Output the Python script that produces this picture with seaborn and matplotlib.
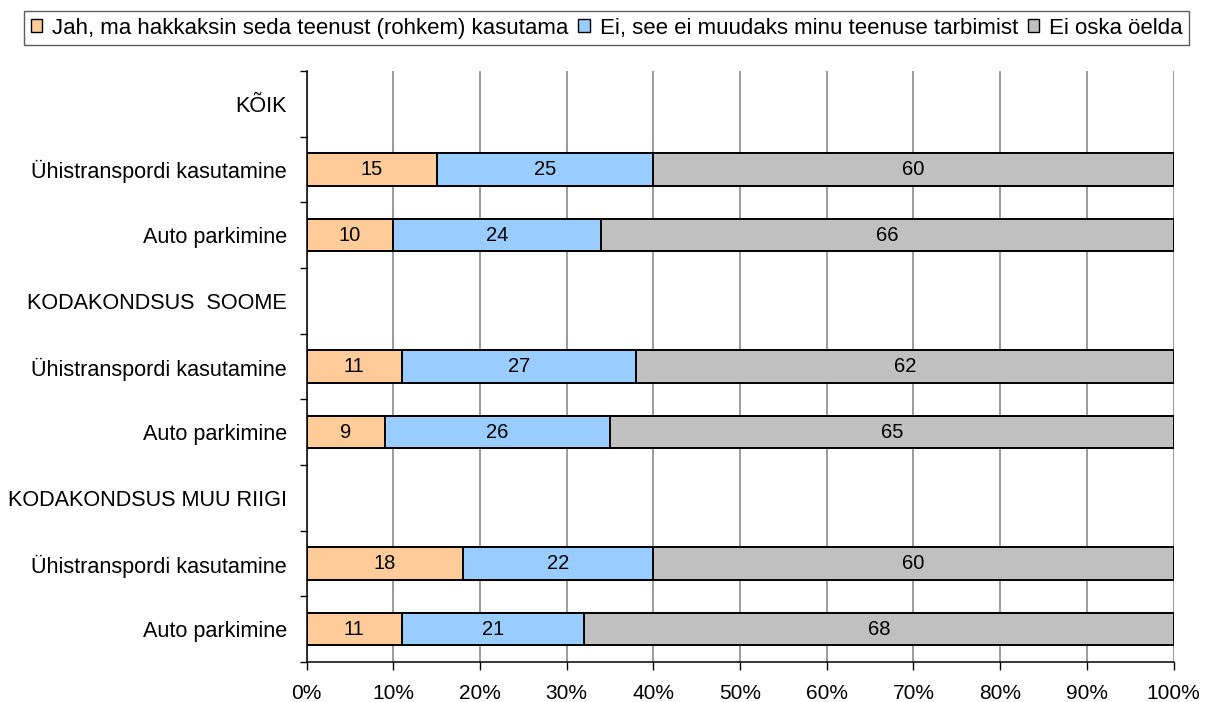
import matplotlib
matplotlib.use("Agg")
import matplotlib.pyplot as plt
import numpy as np
import pandas as pd
import seaborn as sns
from matplotlib.patches import Patch
from matplotlib.ticker import FixedLocator, PercentFormatter

row_labels = [
    "KÕIK",
    "Ühistranspordi kasutamine",
    "Auto parkimine",
    "KODAKONDSUS  SOOME",
    "Ühistranspordi kasutamine",
    "Auto parkimine",
    "KODAKONDSUS MUU RIIGI",
    "Ühistranspordi kasutamine",
    "Auto parkimine",
]
series_names = [
    "Jah, ma hakkaksin seda teenust (rohkem) kasutama",
    "Ei, see ei muudaks minu teenuse tarbimist",
    "Ei oska öelda",
]
jah = [np.nan, 15, 10, np.nan, 11, 9, np.nan, 18, 11]
ei = [np.nan, 25, 24, np.nan, 27, 26, np.nan, 22, 21]
ei_oska = [np.nan, 60, 66, np.nan, 62, 65, np.nan, 60, 68]
colors = ["#FFCC99", "#99CCFF", "#C0C0C0"]

rows = [f"r{i}" for i in range(len(row_labels))]
df = pd.DataFrame({"row": rows, "jah": jah, "ei": ei, "oska": ei_oska})
df["c1"] = df["jah"]
df["c2"] = df["jah"] + df["ei"]
df["c3"] = df["c2"] + df["oska"]

plt.rcParams["font.family"] = ["Liberation Sans", "DejaVu Sans"]
fig = plt.figure(figsize=(12.05, 7.02), dpi=100)
ax = fig.add_axes([0.2545, 0.057, 0.9739 - 0.2545, 0.899 - 0.057])

# stacked bars: draw cumulative totals from the widest down
for col, color in zip(["c3", "c2", "c1"], colors[::-1]):
    sns.barplot(data=df, x=col, y="row", order=rows, color=color, orient="h",
                width=0.49, edgecolor="black", linewidth=1.4, saturation=1,
                errorbar=None, ax=ax, zorder=3)

# value labels
for i, r in df.iterrows():
    if np.isnan(r["jah"]):
        continue
    starts = [0, r["c1"], r["c2"]]
    for s, v in zip(starts, [r["jah"], r["ei"], r["oska"]]):
        ax.text(s + v / 2, i, f"{int(v)}", ha="center", va="center",
                fontsize=14.5, zorder=4)

ax.set_xlim(0, 100)
ax.set_ylim(len(rows) - 0.5, -0.5)
ax.set_xticks(np.arange(0, 101, 10))
ax.xaxis.set_major_formatter(PercentFormatter(decimals=0))
ax.set_yticks(range(len(rows)))
ax.set_yticklabels(row_labels)
ax.yaxis.set_minor_locator(FixedLocator(np.arange(-0.5, len(rows), 1)))
ax.tick_params(axis="y", which="major", length=0, pad=14, labelsize=15.6)
ax.tick_params(axis="y", which="minor", length=5, width=1, color="black", direction="out")
ax.tick_params(axis="x", length=6, width=1, color="black", pad=10, labelsize=15)
ax.set_xlabel("")
ax.set_ylabel("")

ax.grid(axis="x", color="#808080", linewidth=1.1, zorder=0)
ax.set_axisbelow(True)
for side in ["top", "right"]:
    ax.spines[side].set_visible(False)
for side in ["left", "bottom"]:
    ax.spines[side].set_color("black")
    ax.spines[side].set_linewidth(1.1)

handles = [Patch(facecolor=c, edgecolor="black", linewidth=1) for c in colors]
leg = fig.legend(handles, series_names, loc="center", bbox_to_anchor=(0.5035, 0.96),
                 ncol=3, frameon=True, fancybox=False, fontsize=16,
                 handlelength=0.5, handleheight=0.5, handletextpad=0.45,
                 columnspacing=0.45, borderpad=0.3, borderaxespad=0,
                 edgecolor="#333333")
leg.get_frame().set_linewidth(1)

fig.savefig("out.png", dpi=100, facecolor="white")
